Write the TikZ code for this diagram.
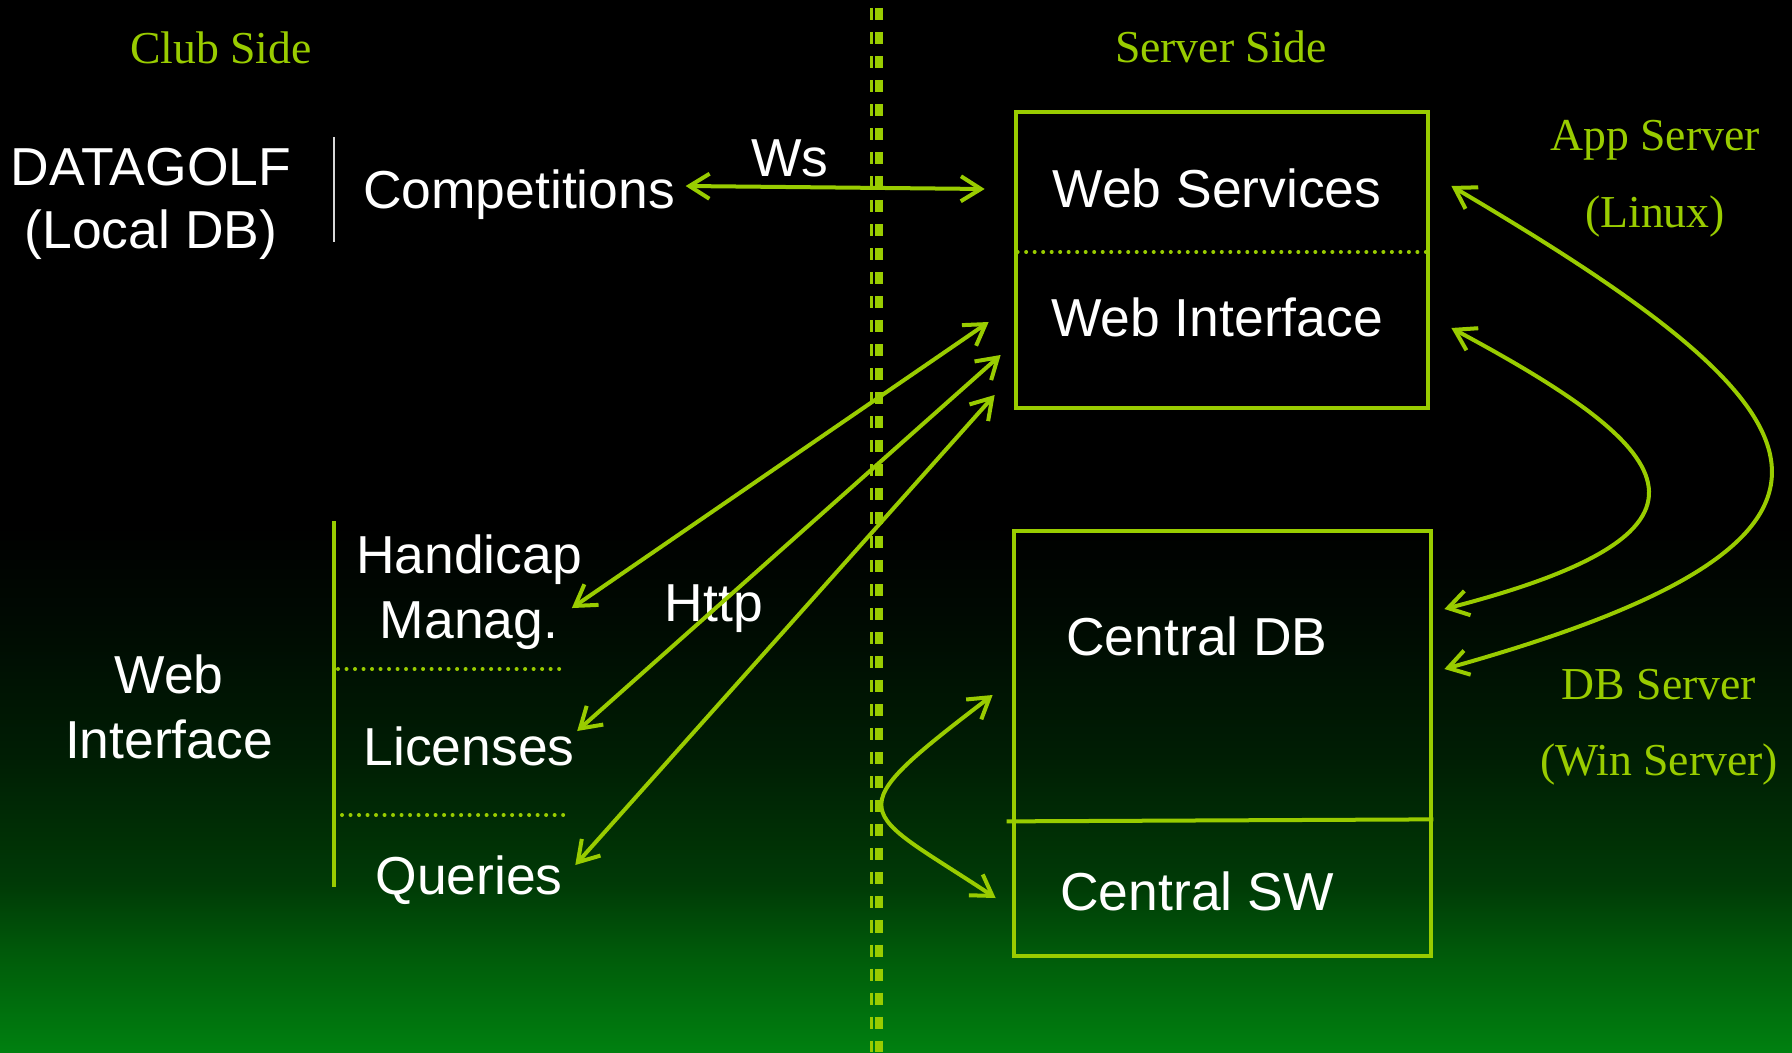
\documentclass[tikz,border=0pt]{standalone}
\usepackage{fontspec}
\setmainfont{Liberation Serif}
\newfontfamily\boxfont{Liberation Sans}
\usetikzlibrary{arrows.meta,positioning}

\definecolor{golfgreen}{RGB}{153,204,0}
\definecolor{bgbot}{RGB}{0,128,16}
\definecolor{bgmidA}{RGB}{0,92,10}
\definecolor{bgmidB}{RGB}{0,58,6}
\definecolor{bgmidC}{RGB}{0,30,4}
\definecolor{bgmidD}{RGB}{0,10,2}
\pgfdeclareverticalshading{golfbg}{100bp}{color(0bp)=(bgbot); color(25bp)=(bgbot);
  color(29.5bp)=(bgmidA); color(33bp)=(bgmidB); color(39bp)=(bgmidC);
  color(45.5bp)=(bgmidD); color(50bp)=(black); color(100bp)=(black)}

\begin{document}
\begin{tikzpicture}[x=0.01cm,y=-0.01cm,>={Straight Barb[length=2mm,width=2.5mm]},
                    node distance=0.65cm]
  \tikzstyle{every node}=[inner sep=0pt]
  \tikzstyle{side}=[text=golfgreen,font=\fontsize{13}{15}\selectfont,text height=8.6pt,text depth=0pt]
  \tikzstyle{item}=[text=white,font=\boxfont\fontsize{15.2}{18}\selectfont,text height=10.9pt,text depth=0pt]
  \tikzstyle{box}=[draw=golfgreen,line width=0.045cm]
  \tikzstyle{link}=[<->,draw=golfgreen,line width=0.04cm]
  \tikzstyle{dots}=[draw=golfgreen,line width=0.04cm,line cap=round,dash pattern=on 0pt off 0.085cm]

  \useasboundingbox (0,0) rectangle (1792,1052);
  \shade[shading=golfbg] (0,0) rectangle (1792,1052);

  % club / server split
  \draw[golfgreen,line width=0.03cm,dash pattern=on 0.12cm off 0.12cm] (871.5,8) -- (871.5,1052);
  \draw[golfgreen,line width=0.08cm,dash pattern=on 0.12cm off 0.12cm] (879,8) -- (879,1052);

  \node[side] (club) at (221,48) {Club Side};
  \node[side] (server) at (1221,47) {Server Side};
  \node[side] (app) at (1655,135) {App Server};
  \node[side,below of=app,node distance=0.77cm] (linux) {(Linux)};
  \node[side] (db) at (1659,684) {DB Server};
  \node[side,below of=db,node distance=0.76cm] (win) {(Win Server)};

  % club side
  \node[item] (datagolf) at (151,166) {DATAGOLF};
  \node[item,below of=datagolf,node distance=0.63cm] (localdb) {(Local DB)};
  \node[item] (comps) at (519,189) {Competitions};
  \node[item] (ws) at (790,157) {Ws};
  \node[item] (http) at (714,602) {Http};
  \node[item] (webl) at (169,674) {Web};
  \node[item,below of=webl] (interfl) {Interface};
  \node[item] (handicap) at (469,554) {Handicap};
  \node[item,below of=handicap] (manag) {Manag.};
  \node[item] (licenses) at (469,746) {Licenses};
  \node[item] (queries) at (469,875) {Queries};

  \draw[white!85!black,line width=0.02cm] (334,137) -- (334,242);
  \draw[golfgreen,line width=0.04cm] (334,521) -- (334,887);
  \draw[dots] (338,669) -- (565,669);
  \draw[dots] (342,815) -- (567,815);

  % server side
  \node[box,minimum width=4.12cm,minimum height=2.96cm] (appbox) at (1222,260) {};
  \node[box,minimum width=4.17cm,minimum height=4.25cm] (dbbox) at (1222.5,743.5) {};
  \node[item] (websvc) at (1217,188) {Web Services};
  \node[item,below of=websvc,node distance=1.29cm] (webint) {Web Interface};
  \node[item] (cdb) at (1197,636) {Central DB};
  \node[item,below of=cdb,node distance=2.55cm] (csw) {Central SW};

  \draw[dots] ([shift={(4,-8)}]appbox.west) -- ([shift={(-4,-8)}]appbox.east);
  \draw[golfgreen,line width=0.04cm] ([shift={(-5,-137)}]dbbox.south west) -- ([shift={(0,-139)}]dbbox.south east);

  \draw[link] ([shift={(10,-3)}]comps.east) -- ([shift={(-29,-71)}]appbox.west);
  \draw[link] ([shift={(13,-11)}]manag.east) -- ([shift={(-25,62)}]appbox.west);
  \draw[link] ([shift={(2,-15)}]licenses.east) -- ([shift={(-13,95)}]appbox.west);
  \draw[link] ([shift={(12,-10)}]queries.east) -- ([shift={(-19,135)}]appbox.west);

  \draw[link] ([shift={(21,-74)}]appbox.east) .. controls +(366,216) and +(491,-137) .. ([shift={(11,-74.5)}]dbbox.east);
  \draw[link] ([shift={(21,68)}]appbox.east) .. controls +(220,118) and +(310,-80) .. ([shift={(11,-134.5)}]dbbox.east);
  \draw[link] ([shift={(-19,-48.5)}]dbbox.west) .. controls +(-160,122) and +(-137,-91) .. ([shift={(-16,154.5)}]dbbox.west);
\end{tikzpicture}
\end{document}
